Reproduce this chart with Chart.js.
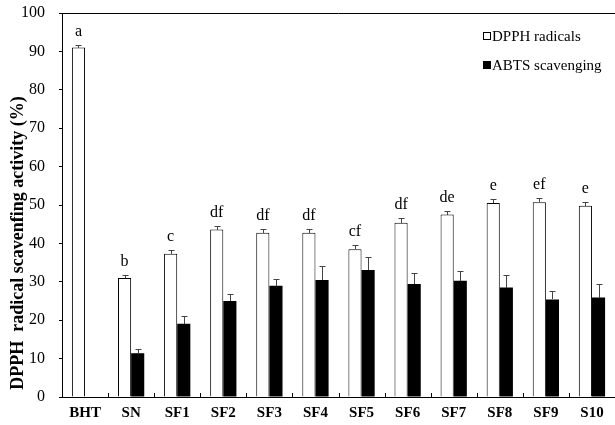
<!DOCTYPE html>
<html>
<head>
<meta charset="utf-8">
<script src="https://cdn.jsdelivr.net/npm/chart.js@4"></script>
<style>
  html, body { margin: 0; padding: 0; background: #fff; overflow: hidden; }
  #wrap { width: 615px; height: 425px; }
</style>
</head>
<body>
<div id="wrap"><canvas id="chart" width="615" height="425"></canvas></div>
<script>
const labels = ['BHT','SN','SF1','SF2','SF3','SF4','SF5','SF6','SF7','SF8','SF9','S10'];
const dpph = [91.0, 31.0, 37.3, 43.6, 42.8, 42.8, 38.5, 45.4, 47.5, 50.5, 50.7, 49.8];
const dpphErr = [0.6, 0.9, 1.1, 1.0, 1.0, 1.0, 1.0, 1.1, 1.0, 1.1, 1.0, 1.1];
const abts = [null, 11.4, 19.1, 25.0, 29.0, 30.5, 33.1, 29.4, 30.3, 28.5, 25.4, 25.9];
const abtsErr = [null, 1.2, 1.9, 1.9, 1.8, 3.5, 3.4, 3.0, 2.6, 3.3, 2.3, 3.6];
const letters = ['a','b','c','df','df','df','cf','df','de','e','ef','e'];
const yTicks = [0,10,20,30,40,50,60,70,80,90,100];
const yTitle = 'DPPH  radical scavenfing activity (%)';

const serif = "'Liberation Serif', 'Times New Roman', serif";

// error bars, significance letters, top border, inner x ticks, legend, y title
const extras = {
  id: 'extras',
  afterDatasetsDraw(chart) {
    const ctx = chart.ctx;
    const y = chart.scales.y;
    const x = chart.scales.x;
    const area = chart.chartArea;
    const errs = [dpphErr, abtsErr];
    ctx.save();
    ctx.strokeStyle = '#444';
    ctx.lineWidth = 1;
    chart.data.datasets.forEach((ds, di) => {
      chart.getDatasetMeta(di).data.forEach((bar, i) => {
        const v = ds.data[i];
        if (v == null) return;
        const top = Math.round(y.getPixelForValue(v + errs[di][i])) + 0.5;
        const base = Math.round(y.getPixelForValue(v));
        const cx = Math.round(bar.x) + 0.5;
        ctx.beginPath();
        ctx.moveTo(cx, base);
        ctx.lineTo(cx, top);
        ctx.moveTo(cx - 3, top);
        ctx.lineTo(cx + 3, top);
        ctx.stroke();
        if (di === 0) {
          ctx.fillStyle = '#000';
          ctx.font = '16px ' + serif;
          ctx.textAlign = 'center';
          ctx.textBaseline = 'alphabetic';
          ctx.fillText(letters[i], bar.x, top - 10);
        }
      });
    });

    // top frame line
    ctx.strokeStyle = '#000';
    ctx.beginPath();
    ctx.moveTo(area.left, area.top + 0.5);
    ctx.lineTo(area.right, area.top + 0.5);
    ctx.stroke();

    // small tick marks between categories, pointing up into the plot
    for (let i = 0; i < labels.length - 1; i++) {
      const px = Math.round((x.getPixelForTick(i) + x.getPixelForTick(i + 1)) / 2) + 0.5;
      ctx.beginPath();
      ctx.moveTo(px, area.bottom);
      ctx.lineTo(px, area.bottom - 4);
      ctx.stroke();
    }

    // legend
    ctx.font = '15px ' + serif;
    ctx.textAlign = 'left';
    ctx.textBaseline = 'middle';
    const rows = [36, 65];
    chart.data.datasets.forEach((ds, di) => {
      const ly = rows[di];
      ctx.fillStyle = ds.backgroundColor;
      ctx.fillRect(483, ly - 4, 8, 8);
      ctx.strokeStyle = '#000';
      ctx.strokeRect(483.5, ly - 3.5, 7, 7);
      ctx.fillStyle = '#000';
      ctx.fillText(ds.label, 492, ly + 1);
    });

    // y axis title
    ctx.translate(18, 243);
    ctx.rotate(-Math.PI / 2);
    ctx.font = 'bold 18px ' + serif;
    ctx.textAlign = 'center';
    ctx.textBaseline = 'middle';
    ctx.fillText(yTitle, 0, 0);
    ctx.restore();
  }
};

new Chart(document.getElementById('chart'), {
  type: 'bar',
  data: {
    labels: labels,
    datasets: [
      { label: 'DPPH radicals', data: dpph, backgroundColor: '#ffffff', borderColor: '#000', borderWidth: 1 },
      { label: 'ABTS scavenging', data: abts, backgroundColor: '#000000', borderColor: '#000', borderWidth: 0 }
    ]
  },
  options: {
    responsive: false,
    animation: false,
    layout: { padding: { top: 13, right: 0, left: 0, bottom: 0 } },
    datasets: { bar: { categoryPercentage: 0.57, barPercentage: 1.0 } },
    scales: {
      x: {
        grid: { display: false, drawTicks: false },
        border: { color: '#000', width: 1 },
        ticks: { color: '#000', font: { family: serif, size: 15, weight: 'bold' }, padding: 7, maxRotation: 0 },
        afterFit: s => { s.height = 28; s.paddingLeft = 0; s.paddingRight = 0; }
      },
      y: {
        min: 0,
        max: 100,
        afterBuildTicks: s => { s.ticks = yTicks.map(v => ({ value: v })); },
        grid: { drawOnChartArea: false, tickLength: 3, color: '#000' },
        border: { color: '#000', width: 1 },
        ticks: { color: '#000', font: { family: serif, size: 16 }, padding: 14 },
        afterFit: s => { s.width = 62; s.paddingTop = 0; s.paddingBottom = 0; }
      }
    },
    plugins: {
      legend: { display: false },
      tooltip: { enabled: false }
    }
  },
  plugins: [extras]
});
</script>
</body>
</html>
